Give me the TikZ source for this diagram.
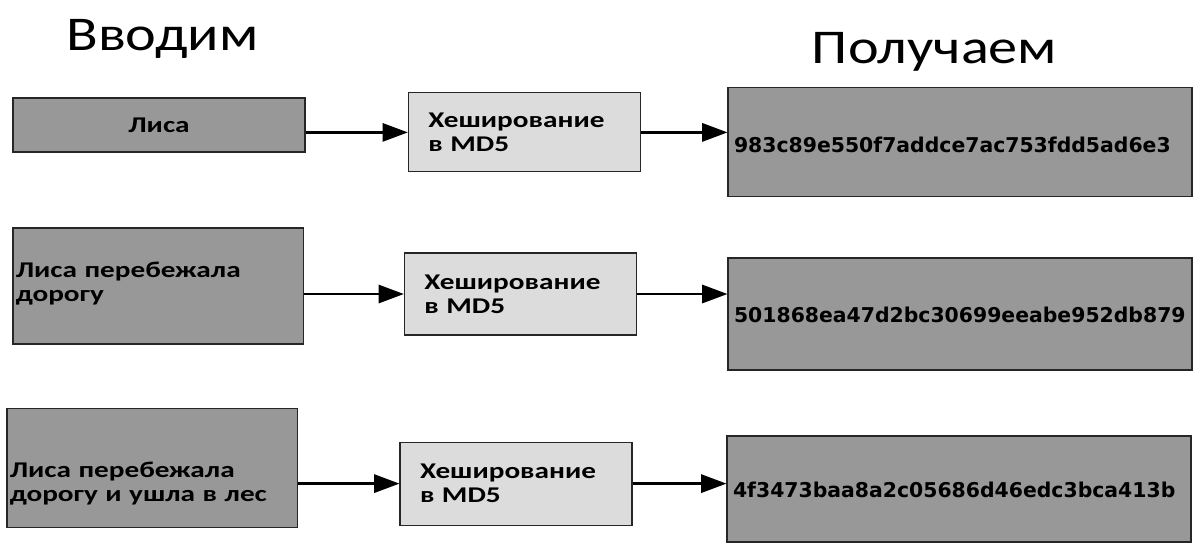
\documentclass[tikz,border=0pt]{standalone}
\usepackage{fontspec}
\usetikzlibrary{arrows.meta, positioning, calc}
\newfontfamily\labelfont[FakeStretch=1.3]{Carlito}
\newfontfamily\titlefont[FakeStretch=1.2]{Carlito}
\newfontfamily\hashfont{DejaVu Sans}
\definecolor{darkfill}{RGB}{152,152,152}
\definecolor{lightfill}{RGB}{220,220,220}
\tikzset{
  inbox/.style   = {draw=black!85, line width=0.8pt, fill=darkfill,
                    inner xsep=2pt, inner ysep=0pt,
                    font=\labelfont\bfseries\fontsize{16pt}{17pt}\selectfont},
  hashbox/.style = {draw=black!85, line width=0.8pt, fill=lightfill,
                    minimum height=2.0cm, text width=4.8cm, align=left,
                    inner xsep=0.5cm, inner ysep=0pt,
                    font=\labelfont\bfseries\fontsize{16pt}{17pt}\selectfont},
  outbox/.style  = {draw=black!85, line width=0.8pt, fill=darkfill,
                    text width=11.3cm, align=left, inner xsep=0.15cm, inner ysep=0pt,
                    text height=12pt, text depth=0pt,
                    font=\hashfont\bfseries\fontsize{14.5pt}{17pt}\selectfont},
  title/.style   = {anchor=base, inner sep=0pt,
                    font=\titlefont\fontsize{34.5pt}{40pt}\selectfont},
  arrow/.style   = {-{Triangle[length=18pt, width=13pt]}, line width=1.6pt},
}

\begin{document}
\begin{tikzpicture}
  \useasboundingbox (0,0) rectangle (29.85,-13.7);
  % headings
  \node[title] (inhead) at (4.06,-1.25) {Вводим};
  \node[title] (outhead) at (23.36,-1.575) {Получаем};
  % row 1
  \node[inbox, minimum width=7.3cm, minimum height=1.35cm] (in1) at (3.975,-3.125) {Лиса};
  \node[hashbox, minimum height=1.975cm] (md1) at (13.11,-3.31) {Хеширование\\в MD5};
  \node[outbox, minimum height=2.725cm, text height=15pt] (out1) at (24.0,-3.56)
    {983c89e550f7addce7ac753fdd5ad6e3};
  \draw[arrow] (in1.east |- md1.west) -- (md1.west);
  \draw[arrow] (md1.east) -- (md1.east -| out1.west);
  % row 2
  \node[inbox, text width=7.13cm, align=left, minimum height=2.9cm,
        text height=12pt, text depth=23.4pt] (in2) at (3.96,-7.15)
    {Лиса перебежала\\дорогу};
  \node[hashbox, minimum height=2.05cm] (md2) at (13.01,-7.35) {Хеширование\\в MD5};
  \node[outbox, minimum height=2.8cm] (out2) at (24.0,-7.85)
    {501868ea47d2bc30699eeabe952db879};
  \draw[arrow] (in2.east |- md2.west) -- (md2.west);
  \draw[arrow] (md2.east) -- (md2.east -| out2.west);
  % row 3
  \node[inbox, text width=7.13cm, align=left, minimum height=2.975cm,
        text height=33.6pt, text depth=20pt] (in3) at (3.81,-11.69)
    {Лиса перебежала\\дорогу и ушла в лес};
  \node[hashbox, minimum height=2.075cm] (md3) at (12.9,-12.09) {Хеширование\\в MD5};
  \node[outbox, minimum height=2.65cm] (out3) at (23.975,-12.225)
    {4f3473baa8a2c05686d46edc3bca413b};
  \draw[arrow] (in3.east |- md3.west) -- (md3.west);
  \draw[arrow] (md3.east) -- (md3.east -| out3.west);
\end{tikzpicture}
\end{document}
